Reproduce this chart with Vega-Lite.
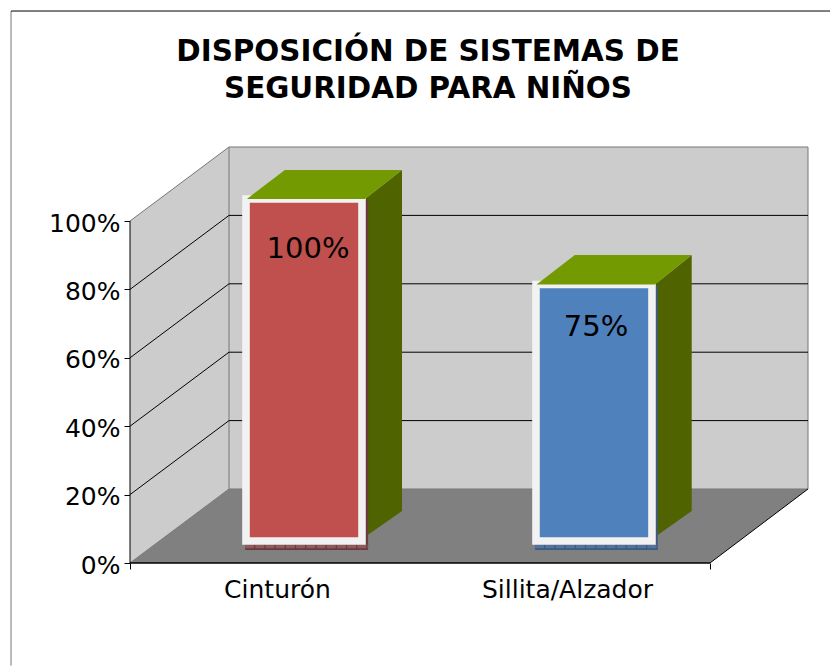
{
"$schema":"https://vega.github.io/schema/vega-lite/v6.json",
"width":678,"height":416,
"autosize":{"type":"none"},
"padding":{"left":130,"top":147,"right":22,"bottom":103},
"background":"white",
"config":{"view":{"stroke":null}},
"title":{"text":["DISPOSICIÓN DE SISTEMAS DE","SEGURIDAD PARA NIÑOS"],"font":"DejaVu Sans","fontWeight":"bold","fontSize":29.4,"lineHeight":36.7,"color":"black","anchor":"middle","dx":-41,"offset":-94},
"datasets":{
"walls":[
{"face":"leftWall","x":0,"y":0,"y2":100},
{"face":"leftWall","x":0.3414,"y":21.64,"y2":121.64},
{"face":"sideCinturon","x":0.81,"y":7.6,"y2":106.43},
{"face":"sideCinturon","x":0.938,"y":15.2,"y2":114.9},
{"face":"sideSillita","x":1.81,"y":7.6,"y2":81.43},
{"face":"sideSillita","x":1.937,"y":15.2,"y2":90.06}],
"floors":[
{"face":"floor","y":0,"x":0,"x2":2},
{"face":"floor","y":21.64,"x":0.3414,"x2":2.338}],
"backWall":[{"face":"backWall","x":0.3414,"x2":2.338,"y":21.64,"y2":121.64}],
"edges":[
{"face":"edge","x":0,"x2":0.3414,"y":100,"y2":121.64},
{"face":"edge","x":0,"x2":0.3414,"y":0,"y2":21.64},
{"face":"edge","x":0.3414,"x2":0.3414,"y":21.64,"y2":121.64},
{"face":"edge","x":0.3414,"x2":2.338,"y":21.64,"y2":21.64},
{"face":"edge","x":0.3414,"x2":2.338,"y":121.64,"y2":121.64},
{"face":"edge","x":2.338,"x2":2.338,"y":21.64,"y2":121.64},
{"face":"grid","x":0,"x2":0.3414,"y":20,"y2":41.64},
{"face":"grid","x":0,"x2":0.3414,"y":40,"y2":61.64},
{"face":"grid","x":0,"x2":0.3414,"y":60,"y2":81.64},
{"face":"grid","x":0,"x2":0.3414,"y":80,"y2":101.64},
{"face":"grid","x":0.3414,"x2":2.338,"y":41.64,"y2":41.64},
{"face":"grid","x":0.3414,"x2":2.338,"y":61.64,"y2":61.64},
{"face":"grid","x":0.3414,"x2":2.338,"y":81.64,"y2":81.64},
{"face":"grid","x":0.3414,"x2":2.338,"y":101.64,"y2":101.64},
{"face":"grid","x":2,"x2":2.338,"y":0,"y2":21.64},
{"face":"grid","x":0,"x2":0,"y":0,"y2":100},
{"face":"edge","x":-0.4103,"x2":-0.4103,"y":-30,"y2":161.4},
{"face":"grid","x":-0.4103,"x2":2.5,"y":161.4,"y2":161.4}],
"baseLine":[{"face":"grid","x":0,"x2":2,"y":0,"y2":0}],
"shadows":[
{"face":"shadowCinturon","x":0.397,"x2":0.821,"y":3.8,"y2":106},
{"face":"shadowSillita","x":1.397,"x2":1.82,"y":3.8,"y2":81}],
"shadowStrip":[
{"face":"stripCinturon","x":0.397,"x2":0.821,"y":4.9,"y2":4.9},
{"face":"stripSillita","x":1.397,"x2":1.82,"y":4.9,"y2":4.9}],
"bars":[
{"face":"Cinturón","x":0.4,"x2":0.8,"y":6.43,"y2":106.43},
{"face":"Sillita/Alzador","x":1.4,"x2":1.8,"y":6.43,"y2":81.43}],
"tops":[
{"face":"topCinturon","y":106.43,"x":0.403,"x2":0.81},
{"face":"topCinturon","y":114.9,"x":0.534,"x2":0.938},
{"face":"topSillita","y":81.43,"x":1.402,"x2":1.81},
{"face":"topSillita","y":90.06,"x":1.534,"x2":1.937}],
"labels":[
{"face":"grid","x":0.614,"y":91.7,"label":"100%"},
{"face":"grid","x":1.607,"y":69,"label":"75%"}]
},
"encoding":{
"x":{"field":"x","type":"quantitative","scale":{"domain":[0,2.338],"nice":false,"zero":false},
"axis":{"title":null,"values":[0,0.5,1.5,2],"grid":false,"domain":false,"labelAngle":0,"tickSize":6,"tickColor":"black",
"tickOpacity":{"condition":{"test":"datum.value==0||datum.value==2","value":1},"value":0},
"labelExpr":"datum.value==0.5?'Cinturón':datum.value==1.5?'Sillita/Alzador':''",
"labelFont":"DejaVu Sans","labelFontSize":25,"labelColor":"black","labelPadding":8,"labelOffset":2,"labelFlush":false,"labelOverlap":false}},
"y":{"field":"y","type":"quantitative","scale":{"domain":[0,121.64],"nice":false,"zero":false},
"axis":{"title":null,"values":[0,20,40,60,80,100],"grid":false,"domain":false,"tickSize":6,"tickColor":"black",
"labelExpr":"datum.value+'%'","labelFont":"DejaVu Sans","labelFontSize":25,"labelColor":"black","labelPadding":4,"labelOffset":2}},
"color":{"field":"face","type":"nominal","legend":null,"scale":{
"domain":["leftWall","backWall","floor","edge","grid","sideCinturon","sideSillita","topCinturon","topSillita","shadowCinturon","shadowSillita","stripCinturon","stripSillita","Cinturón","Sillita/Alzador"],
"range":["#cccccc","#cccccc","#808080","#777777","#000000","#4f6300","#4f6300","#739a00","#739a00","#6b3a3c","#3d5a80","#8f5a5c","#56719a","#c0504d","#4f81bd"]}}
},
"layer":[
{"data":{"name":"walls"},"transform":[{"filter":"datum.face=='leftWall'"}],"mark":{"type":"area","orient":"vertical"},"encoding":{"y2":{"field":"y2"}}},
{"data":{"name":"backWall"},"mark":"rect","encoding":{"x2":{"field":"x2"},"y2":{"field":"y2"}}},
{"data":{"name":"floors"},"mark":{"type":"area","orient":"horizontal"},"encoding":{"x2":{"field":"x2"}}},
{"data":{"name":"edges"},"mark":{"type":"rule","strokeWidth":1},"encoding":{"x2":{"field":"x2"},"y2":{"field":"y2"}}},
{"data":{"name":"baseLine"},"mark":{"type":"rule","strokeWidth":1.6},"encoding":{"x2":{"field":"x2"},"y2":{"field":"y2"}}},
{"data":{"name":"walls"},"transform":[{"filter":"datum.face!='leftWall'"}],"mark":{"type":"area","orient":"vertical"},"encoding":{"y2":{"field":"y2"}}},
{"data":{"name":"shadows"},"mark":"rect","encoding":{"x2":{"field":"x2"},"y2":{"field":"y2"}}},
{"data":{"name":"shadowStrip"},"mark":{"type":"rule","strokeWidth":4,"strokeDash":[9,1.2]},"encoding":{"x2":{"field":"x2"},"y2":{"field":"y2"}}},
{"data":{"name":"bars"},"mark":{"type":"rect","stroke":"#f2f2f2","strokeWidth":7.6},"encoding":{"x2":{"field":"x2"},"y2":{"field":"y2"}}},
{"data":{"name":"tops"},"mark":{"type":"area","orient":"horizontal"},"encoding":{"x2":{"field":"x2"}}},
{"data":{"name":"labels"},"mark":{"type":"text","font":"DejaVu Sans","fontSize":29,"align":"center","baseline":"middle"},"encoding":{"text":{"field":"label"}}}
]
}
